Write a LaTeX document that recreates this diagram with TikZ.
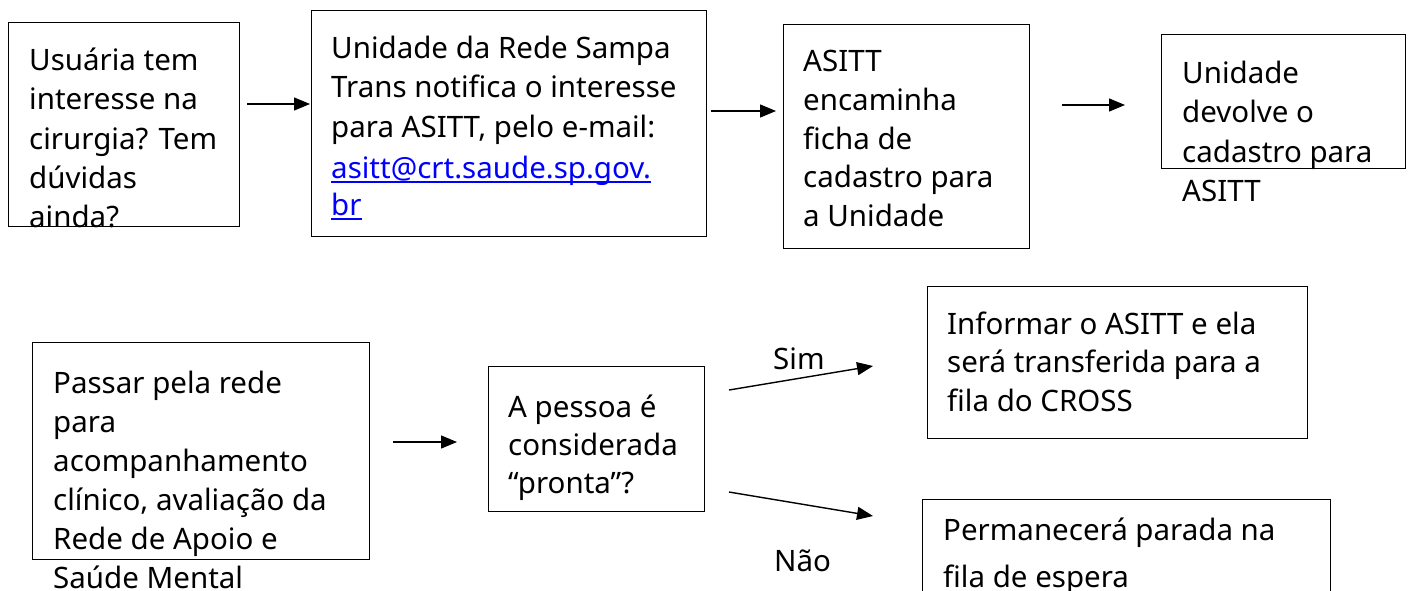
\documentclass[tikz,border=0pt]{standalone}
\usepackage{fontspec}
\setmainfont{Noto Sans}
\usetikzlibrary{arrows.meta}
\definecolor{linkblue}{RGB}{0,0,255}
\begin{document}
\begin{tikzpicture}[x=1pt,y=-1pt,
  box/.style={draw, line width=1.3pt, inner sep=0pt, anchor=north west},
  txt/.style={anchor=base west, inner sep=0pt, font=\fontsize{29.5}{39}\selectfont},
  arr/.style={line width=1.4pt, -{Triangle[length=16pt,width=13pt]}}]
\useasboundingbox (0,0) rectangle (1412,591);
\clip (0,0) rectangle (1412,591);

% boxes
\node[box, minimum width=231pt, minimum height=204pt] (b1) at (8,22) {};
\node[box, minimum width=395pt, minimum height=226pt] (b2) at (311,10) {};
\node[box, minimum width=246pt, minimum height=224pt] (b3) at (783,24) {};
\node[box, minimum width=244pt, minimum height=134pt] (b4) at (1161,34) {};
\node[box, minimum width=337pt, minimum height=217pt] (b5) at (32,342) {};
\node[box, minimum width=216pt, minimum height=145pt] (b6) at (488,366) {};
\node[box, minimum width=380pt, minimum height=152pt] (b7) at (927,286) {};
\node[box, minimum width=408pt, minimum height=160pt] (b8) at (922,499) {};

% texts
\foreach \t [count=\i from 0] in {Usuária tem, interesse na, cirurgia? Tem, dúvidas, ainda?}
  \node[txt] (t1-\i) at (29,{71+39*\i}) {\t};
\foreach \t [count=\i from 0] in {Unidade da Rede Sampa, Trans notifica o interesse, {para ASITT, pelo e-mail:}}
  \node[txt] (t2-\i) at (331,{59+39*\i}) {\t};
\node[txt, text=linkblue] (t2-3) at (331,178) {asitt@crt.saude.sp.gov.};
\node[txt, text=linkblue] (t2-4) at (331,215) {br};
\draw[linkblue, line width=1.3pt] ([yshift=-4pt]t2-3.base west) -- ([yshift=-4pt]t2-3.base east);
\draw[linkblue, line width=1.3pt] ([yshift=-4pt]t2-4.base west) -- ([yshift=-4pt]t2-4.base east);
\foreach \t [count=\i from 0] in {ASITT, encaminha, ficha de, cadastro para, a Unidade}
  \node[txt] (t3-\i) at (803,{72+38.5*\i}) {\t};
\foreach \t [count=\i from 0] in {Unidade, devolve o, cadastro para, ASITT}
  \node[txt] (t4-\i) at (1182,{84+39*\i}) {\t};
\foreach \t [count=\i from 0] in {Passar pela rede, para, acompanhamento, {clínico, avaliação da}, Rede de Apoio e, Saúde Mental}
  \node[txt] (t5-\i) at (53,{393+39*\i}) {\t};
\foreach \t [count=\i from 0] in {A pessoa é, considerada, “pronta”?}
  \node[txt] (t6-\i) at (508,{417+38*\i}) {\t};
\foreach \t [count=\i from 0] in {Informar o ASITT e ela, será transferida para a, fila do CROSS}
  \node[txt] (t7-\i) at (947,{334+38.5*\i}) {\t};
\foreach \t [count=\i from 0] in {Permanecerá parada na, fila de espera}
  \node[txt] (t8-\i) at (943,{540+47*\i}) {\t};
\node[txt] (sim) at (773,369) {Sim};
\node[txt] (nao) at (774,571) {Não};

% connectors
\coordinate (a1s) at (247,104);  \coordinate (a1e) at (310,104);
\coordinate (a2s) at (711,111);  \coordinate (a2e) at (776,111);
\coordinate (a3s) at (1062,105); \coordinate (a3e) at (1125,105);
\coordinate (a4s) at (393,442);  \coordinate (a4e) at (457,442);
\coordinate (a5s) at (729,390);  \coordinate (a5e) at (873,366);
\coordinate (a6s) at (729,492);  \coordinate (a6e) at (873,516);
\draw[arr] (a1s) -- (a1e);
\draw[arr] (a2s) -- (a2e);
\draw[arr] (a3s) -- (a3e);
\draw[arr] (a4s) -- (a4e);
\draw[arr] (a5s) -- (a5e);
\draw[arr] (a6s) -- (a6e);
\end{tikzpicture}
\end{document}
